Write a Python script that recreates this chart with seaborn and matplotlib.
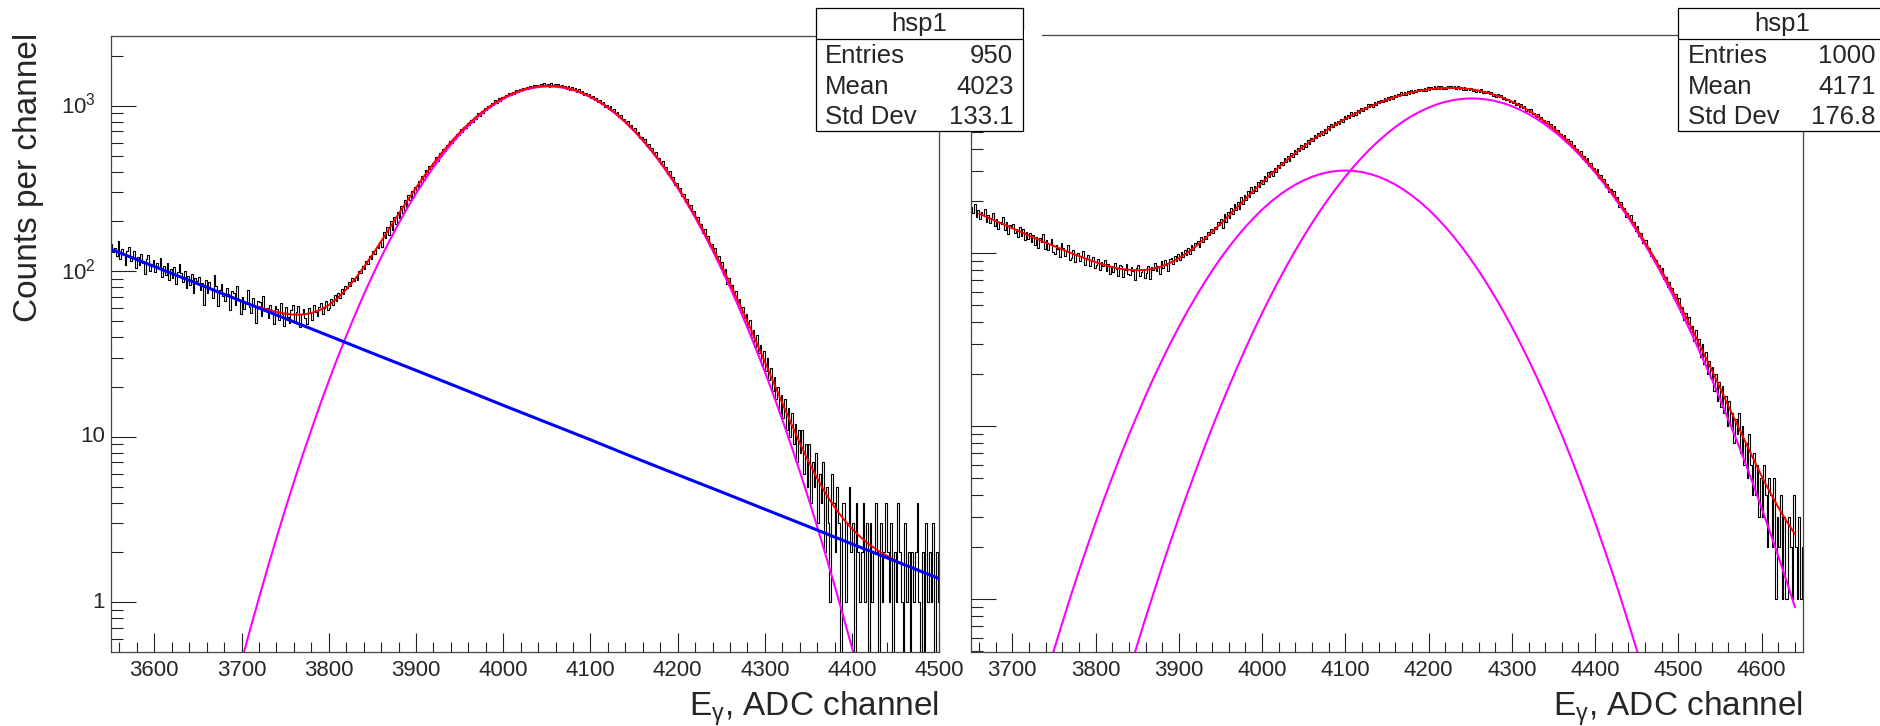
import numpy as np
import pandas as pd
import matplotlib
matplotlib.use('Agg')
import matplotlib.pyplot as plt
from matplotlib.ticker import FixedLocator, MultipleLocator, NullFormatter
from matplotlib.patches import Rectangle
from matplotlib.lines import Line2D
from matplotlib.transforms import offset_copy
import seaborn as sns

sns.set_theme(style='white')
plt.rcParams['font.family'] = ['Liberation Sans', 'DejaVu Sans']
plt.rcParams['mathtext.fontset'] = 'custom'
plt.rcParams['mathtext.rm'] = 'Liberation Sans'
plt.rcParams['mathtext.it'] = 'Liberation Sans'
plt.rcParams['mathtext.bf'] = 'Liberation Sans:bold'

# ---------------- data ----------------
# left spectrum: counts per channel, 2-channel bins from 3550 to 4500
left_counts = [
    147, 131, 139, 124, 152, 118, 136, 127, 109, 133,
    141, 115, 120, 132, 104, 122, 109, 128, 113, 96,
    119, 125, 101, 108, 117, 99, 113, 104, 121, 92,
    108, 95, 112, 88, 103, 91, 106, 84, 99, 110,
    97, 86, 101, 79, 94, 83, 96, 74, 91, 87,
    92, 77, 85, 63, 89, 74, 86, 79, 69, 95,
    81, 62, 77, 84, 71, 66, 79, 73, 58, 76,
    74, 63, 81, 67, 55, 70, 59, 64, 77, 61,
    56, 69, 62, 49, 66, 65, 54, 71, 58, 60,
    52, 63, 57, 48, 62, 59, 51, 64, 55, 47,
    61, 53, 49, 58, 63, 50, 57, 62, 46, 55,
    59, 52, 48, 60, 56, 51, 63, 57, 54, 61,
    64, 55, 60, 66, 58, 60, 68, 63, 72, 66,
    74, 69, 78, 73, 81, 79, 86, 82, 91, 87,
    93, 89, 101, 97, 108, 103, 116, 111, 124, 119,
    132, 127, 141, 138, 150, 141, 172, 158, 186, 166,
    201, 178, 212, 194, 228, 209, 247, 226, 268, 244,
    291, 268, 307, 282, 322, 309, 352, 328, 379, 356,
    409, 386, 431, 417, 451, 441, 489, 463, 516, 498,
    548, 531, 577, 560, 611, 597, 643, 631, 678, 662,
    721, 699, 749, 733, 788, 768, 821, 803, 859, 838,
    901, 873, 936, 902, 971, 942, 1003, 979, 1041, 1012,
    1079, 1047, 1108, 1071, 1131, 1107, 1170, 1139, 1201, 1166,
    1219, 1182, 1247, 1209, 1262, 1228, 1288, 1255, 1306, 1271,
    1319, 1276, 1335, 1292, 1340, 1296, 1352, 1311, 1365, 1318,
    1349, 1301, 1368, 1326, 1359, 1302, 1351, 1296, 1340, 1281,
    1322, 1268, 1311, 1249, 1290, 1238, 1279, 1219, 1262, 1203,
    1226, 1170, 1199, 1145, 1176, 1122, 1151, 1087, 1118, 1061,
    1085, 1024, 1052, 988, 1013, 962, 997, 931, 951, 889,
    912, 856, 874, 821, 838, 784, 809, 749, 763, 711,
    731, 679, 694, 640, 652, 609, 631, 574, 586, 538,
    556, 508, 523, 476, 484, 448, 463, 415, 427, 386,
    403, 361, 372, 334, 341, 316, 319, 287, 293, 262,
    274, 246, 251, 226, 231, 211, 212, 187, 193, 170,
    181, 157, 164, 142, 146, 131, 139, 118, 123, 105,
    114, 95, 103, 84, 91, 81, 83, 72, 76, 64,
    68, 57, 61, 50, 55, 46, 51, 40, 44, 35,
    41, 32, 36, 27, 33, 25, 30, 22, 26, 19,
    23, 17, 20, 14, 18, 13, 17, 11, 15, 10,
    14, 9, 12, 7, 11, 8, 11, 6, 9, 5,
    9, 4, 7, 5, 8, 3, 6, 4, 7, 2,
    5, 3, 1, 6, 4, 2, 5, 3, 0, 4,
    4, 1, 3, 5, 2, 3, 0, 4, 2, 1,
    2, 4, 1, 3, 0, 3, 1, 2, 4, 2,
    0, 3, 1, 2, 4, 2, 1, 3, 0, 2,
    1, 4, 2, 1, 0, 3, 1, 2, 0, 2,
    1, 2, 4, 1, 0, 2, 0, 3, 1, 2,
    1, 3, 0, 2, 1,
]
# right spectrum: counts per channel, 2-channel bins from 3650 to 4650
right_counts = [
    186, 171, 192, 163, 178, 158, 174, 166, 181, 152,
    167, 149, 160, 171, 143, 158, 139, 152, 147, 163,
    137, 151, 129, 146, 140, 147, 131, 139, 124, 142,
    126, 138, 119, 133, 121, 131, 116, 127, 112, 124,
    108, 123, 117, 129, 106, 119, 104, 113, 121, 102,
    99, 112, 106, 95, 114, 108, 96, 102, 111, 91,
    94, 105, 89, 99, 101, 90, 97, 103, 86, 93,
    98, 84, 91, 95, 82, 86, 93, 80, 89, 84,
    91, 79, 87, 76, 85, 78, 88, 81, 74, 86,
    84, 73, 80, 87, 76, 75, 83, 79, 70, 82,
    86, 74, 78, 81, 72, 77, 85, 71, 83, 80,
    88, 79, 84, 76, 90, 82, 91, 86, 79, 93,
    94, 87, 96, 90, 99, 91, 102, 95, 104, 98,
    107, 99, 111, 104, 114, 112, 118, 109, 124, 117,
    126, 121, 133, 127, 138, 131, 142, 139, 151, 145,
    158, 141, 168, 152, 174, 161, 183, 169, 194, 177,
    199, 181, 211, 192, 218, 203, 228, 211, 241, 223,
    246, 229, 258, 241, 266, 252, 279, 263, 294, 276,
    298, 281, 312, 294, 326, 312, 339, 324, 356, 338,
    365, 343, 378, 359, 393, 377, 408, 389, 424, 403,
    436, 412, 449, 429, 466, 447, 481, 462, 499, 474,
    509, 484, 522, 497, 541, 519, 557, 536, 574, 549,
    584, 558, 598, 571, 618, 596, 634, 609, 652, 623,
    659, 631, 672, 646, 691, 668, 704, 681, 726, 698,
    731, 701, 745, 719, 762, 737, 774, 749, 793, 761,
    797, 765, 809, 781, 823, 798, 836, 810, 851, 819,
    852, 821, 863, 837, 874, 846, 881, 855, 893, 863,
    894, 862, 902, 873, 911, 879, 915, 889, 926, 893,
    921, 887, 928, 894, 917, 893, 929, 899, 933, 906,
    924, 888, 921, 892, 915, 884, 917, 879, 906, 881,
    903, 869, 894, 861, 884, 859, 887, 848, 871, 842,
    866, 829, 851, 815, 836, 806, 838, 797, 819, 782,
    806, 769, 784, 751, 763, 741, 768, 722, 739, 705,
    727, 689, 708, 667, 681, 655, 681, 637, 651, 611,
    638, 599, 617, 578, 590, 563, 584, 541, 556, 518,
    543, 501, 519, 481, 492, 467, 486, 445, 459, 425,
    446, 409, 424, 389, 399, 374, 392, 353, 366, 339,
    354, 319, 334, 302, 313, 292, 306, 274, 283, 257,
    269, 243, 251, 227, 234, 221, 229, 203, 211, 186,
    199, 177, 184, 163, 170, 159, 166, 146, 151, 134,
    143, 126, 131, 114, 119, 119, 106, 108, 97, 98,
    93, 92, 83, 86, 77, 82, 71, 73, 64, 68,
    61, 63, 55, 58, 50, 55, 46, 49, 41, 45,
    39, 43, 35, 38, 31, 36, 29, 32, 25, 30,
    23, 27, 20, 24, 19, 22, 16, 20, 14, 18,
    13, 17, 12, 15, 10, 14, 10, 12, 8, 11,
    9, 12, 7, 10, 6, 8, 5, 9, 6, 4,
    7, 4, 6, 3, 5, 3, 6, 4, 2, 5,
    4, 2, 5, 1, 3, 2, 4, 1, 3, 1,
    1, 3, 2, 1, 4, 2, 1, 3, 1, 2,
]

# left fit components (blue background every 50 ch, others every 10 ch)
left_bkg = [136, 106.9, 84.0, 66.0, 51.9, 40.8, 32.0, 25.2, 19.8, 15.5,
            12.2, 9.6, 7.5, 5.9, 4.65, 3.65, 2.87, 2.25, 1.77, 1.39]
left_peak = [0.44, 0.69, 1.06, 1.62, 2.44, 3.63, 5.33, 7.72, 11.0, 15.6,
             21.7, 29.9, 40.6, 54.4, 72.0, 93.9, 121.2, 154.3, 194.0, 240.7,
             294.8, 356.3, 425.3, 501.1, 582.8, 669, 758.5, 848.7, 937.3, 1022,
             1100, 1169, 1226, 1270, 1298, 1310, 1305, 1283, 1245, 1193,
             1129, 1054, 972, 884.5, 794.5, 704.7, 616.9, 533.2, 454.8, 383.0,
             318.5, 261.3, 211.7, 169.4, 133.8, 104.2, 80.2, 60.9, 45.7, 33.8,
             24.7, 17.8, 12.7, 8.92, 6.19, 4.24, 2.87, 1.91, 1.26, 0.82,
             0.53, 0.34]
left_fit = [61.0, 58.7, 56.8, 55.5, 54.7, 54.8, 55.9, 58.4,
            62.5, 68.8, 77.6, 89.7, 105.6, 125.9, 151.7, 183.4, 221.7, 267.1,
            320, 380, 448, 523, 604, 689, 777, 867, 954, 1038,
            1116, 1184, 1240, 1283, 1311, 1322, 1317, 1294, 1256, 1203,
            1139, 1063, 981, 893, 802, 712, 624, 540, 461, 389,
            324, 267, 217, 174.5, 138.7, 108.9, 84.6, 65.1, 49.7, 37.6,
            28.4, 21.3, 16.0, 12.1, 9.2, 7.11, 5.61, 4.52, 3.75, 3.19,
            2.78, 2.47, 2.23, 2.05, 1.91, 1.79, 1.69, 1.61, 1.53, 1.46,
            1.39]

# right fit components (every 10 ch)
right_fit = [169.6, 161.6, 153.9, 146.7, 139.7, 133.1, 126.8, 120.8, 115.4, 110.2,
             105.2, 100.6, 96.4, 92.4, 88.9, 85.8, 83.3, 81.3, 80.3, 79.8,
             80.2, 81.7, 84.3, 88.2, 93.6, 100.7, 109.4, 120.2, 133.0, 148.0,
             165.1, 184.6, 206.3, 230.4, 256.7, 285.0, 315.1, 347.0, 380.5, 415.2,
             451.0, 487.5, 524.6, 561.8, 599.1, 635.8, 671.9, 707.0, 740.4, 772.1,
             801.7, 828.4, 851.8, 871.6, 887.2, 898.1, 904.1, 904.6, 899.6, 889.1,
             872.4, 850.3, 822.9, 790.6, 753.8, 713.2, 669.5, 623.4, 575.9, 527.6,
             479.6, 432.2, 386.3, 342.5, 300.9, 262.0, 226.3, 193.7, 164.8, 138.7,
             115.8, 96.2, 79.0, 64.5, 52.3, 42.1, 33.6, 26.6, 21.2, 16.7,
             13.1, 10.4, 8.2, 6.5, 5.15, 4.16, 3.4, 2.82, 2.38]
right_peak1 = [0.35, 0.51, 0.73, 1.04, 1.46, 2.02, 2.78, 3.78, 5.08, 6.77,
               8.92, 11.6, 15.0, 19.2, 24.2, 30.3, 37.5, 46.0, 55.7, 66.8,
               79.4, 93.3, 108.5, 124.9, 142.2, 160.3, 178.9, 197.5, 215.7, 233.2,
               249.6, 264.2, 276.9, 287.2, 294.8, 299.4, 301, 299.4, 294.8, 287.2,
               276.9, 264.2, 249.6, 233.2, 215.7, 197.5, 178.9, 160.3, 142.2, 124.9,
               108.5, 93.3, 79.4, 66.8, 55.7, 46.0, 37.5, 30.3, 24.2, 19.2,
               15.0, 11.6, 8.92, 6.77, 5.08, 3.78, 2.78, 2.02, 1.46, 1.04,
               0.73, 0.51, 0.35]
right_peak2 = [0.38, 0.545, 0.78, 1.10, 1.55, 2.16, 2.97, 4.07, 5.50, 7.39,
               9.83, 12.96, 16.9, 21.9, 28.1, 35.8, 45.1, 56.3, 69.7, 85.5,
               104.0, 125.3, 149.6, 177.0, 207.6, 241.2, 277.9, 317.2, 358.8, 402.3,
               446.9, 492.1, 537.0, 580.8, 622.4, 661.1, 695.9, 726.0, 750.6, 769.0,
               780.9, 786, 783.7, 774.6, 758.7, 736.5, 708.6, 675.6, 638.3, 597.6,
               554.6, 510.0, 464.9, 420.0, 376.0, 333.8, 293.4, 255.5, 220.6, 188.6,
               160.2, 134.5, 112.0, 92.6, 75.7, 61.4, 49.4, 39.3, 31.0, 24.1,
               18.8, 14.4, 10.9, 8.3, 6.2, 4.6, 3.36, 2.45, 1.77, 1.27,
               0.90]

stats_left = [('Entries', '950'), ('Mean', '4023'), ('Std Dev', '133.1')]
stats_right = [('Entries', '1000'), ('Mean', '4171'), ('Std Dev', '176.8')]
y_tick_values = [1, 10, 100, 1000]
y_tick_labels = ['1', '10', '$10^{2}$', '$10^{3}$']

# channel grids for the values above
left_bkg_x = np.arange(3550, 4501, 50)
left_peak_x = np.arange(3700, 4411, 10)
left_fit_x = np.arange(3720, 4501, 10)
right_fit_x = np.arange(3660, 4641, 10)
right_peak1_x = np.arange(3740, 4461, 10)
right_peak2_x = np.arange(3840, 4641, 10)

# ---------------- figure ----------------
W, H = 1881, 726
fig = plt.figure(figsize=(W / 100, H / 100), dpi=100)


def fx(px):
    return px / W


def fy(py):
    return 1 - py / H


ax1 = fig.add_axes([fx(110.7), fy(651.7), (939.3 - 110.7) / W, (651.7 - 35.7) / H])
ax2 = fig.add_axes([fx(970.7), fy(651.7), (1803.3 - 970.7) / W, (651.7 - 34.5) / H])


def draw_hist(ax, start, stop, counts, width=2):
    df = pd.DataFrame({'channel': np.arange(start, stop, width) + width / 2,
                       'counts': counts})
    sns.histplot(data=df, x='channel', weights='counts', binwidth=width,
                 binrange=(start, stop), element='step', fill=False,
                 color='black', linewidth=0.8, ax=ax)


def draw_curve(ax, x, y, color, lw):
    df = pd.DataFrame({'channel': x, 'value': y})
    sns.lineplot(data=df, x='channel', y='value', color=color, linewidth=lw,
                 ax=ax, errorbar=None)


MAGENTA = '#ff00ff'
draw_hist(ax1, 3550, 4500, left_counts)
draw_curve(ax1, left_peak_x, left_peak, MAGENTA, 1.5)
draw_curve(ax1, left_fit_x, left_fit, '#ff0000', 1.4)
draw_curve(ax1, left_bkg_x, left_bkg, '#0000ff', 2.2)

draw_hist(ax2, 3650, 4650, right_counts)
draw_curve(ax2, right_peak1_x, right_peak1, MAGENTA, 1.5)
draw_curve(ax2, right_peak2_x, right_peak2, MAGENTA, 1.5)
draw_curve(ax2, right_fit_x, right_fit, '#ff0000', 1.4)

minor_y = [m * 10 ** k for k in range(-1, 4) for m in range(2, 10)]

for ax, xlim, ylim in [(ax1, (3550, 4500), (0.503, 2652)), (ax2, (3650, 4650), (0.498, 1840))]:
    ax.set_yscale('log', nonpositive='clip')
    ax.set_xlim(*xlim)
    ax.set_ylim(*ylim)
    ax.set_xlabel('')
    ax.set_ylabel('')
    ax.xaxis.set_major_locator(MultipleLocator(100))
    ax.xaxis.set_minor_locator(MultipleLocator(20))
    ax.yaxis.set_major_locator(FixedLocator(y_tick_values))
    ax.yaxis.set_minor_locator(FixedLocator(minor_y))
    ax.yaxis.set_major_formatter(NullFormatter())
    ax.yaxis.set_minor_formatter(NullFormatter())
    ax.tick_params(axis='both', which='both', direction='in', width=0.8, color='#222222',
                   bottom=True, left=True, top=False, right=False, labelsize=16)
    ax.tick_params(axis='x', which='major', length=13.5, pad=6)
    ax.tick_params(axis='x', which='minor', length=7)
    ax.tick_params(axis='y', which='major', length=18)
    ax.tick_params(axis='y', which='minor', length=8.5)
    for sp in ax.spines.values():
        sp.set_color('#444444')
        sp.set_linewidth(0.9)

# y labels of the left pad, ROOT places the 10^n ones further out
for val, lab in zip(y_tick_values, y_tick_labels):
    shift = -6 if val < 100 else -15
    tr = offset_copy(ax1.get_yaxis_transform(), fig=fig, x=shift, y=0, units='dots')
    ax1.text(0, val, lab, transform=tr, ha='right', va='center', fontsize=16)

# axis titles, ROOT style (aligned to the axis ends)
fig.text(fx(29), fy(33), 'Counts per channel', rotation=90, ha='center', va='top', fontsize=24)
for right_px in (939.3, 1803.3):
    fig.text(fx(right_px), fy(716), r'E$_{\gamma}$, ADC channel', ha='right', va='baseline', fontsize=24)


# stats boxes
def stats_box(x0, x1, rows):
    y0, ysep, y1 = 8, 39, 131.3
    fig.add_artist(Rectangle((fx(x0), fy(y1)), (x1 - x0) / W, (y1 - y0) / H,
                             transform=fig.transFigure, facecolor='white',
                             edgecolor='black', linewidth=0.9, zorder=10, clip_on=False))
    fig.add_artist(Line2D([fx(x0), fx(x1)], [fy(ysep), fy(ysep)], transform=fig.transFigure,
                          color='black', linewidth=0.9, zorder=11))
    fig.text(fx((x0 + x1) / 2), fy(23.5), 'hsp1', ha='center', va='center', fontsize=18.5, zorder=12)
    for (name, val), yc in zip(rows, (56, 87.3, 117.3)):
        fig.text(fx(x0 + 9.5), fy(yc), name, ha='left', va='center', fontsize=18.5, zorder=12)
        fig.text(fx(x1 - 10), fy(yc), val, ha='right', va='center', fontsize=18.5, zorder=12)


stats_box(815.7, 1023.3, stats_left)
# small blank gap next to the left box on the right pad's frame
fig.add_artist(Rectangle((fx(1023.8), fy(40)), 18 / W, 10 / H, transform=fig.transFigure,
                         facecolor='white', edgecolor='none', zorder=10))
stats_box(1678.3, 1885.9, stats_right)

fig.savefig('out.png', dpi=100)
